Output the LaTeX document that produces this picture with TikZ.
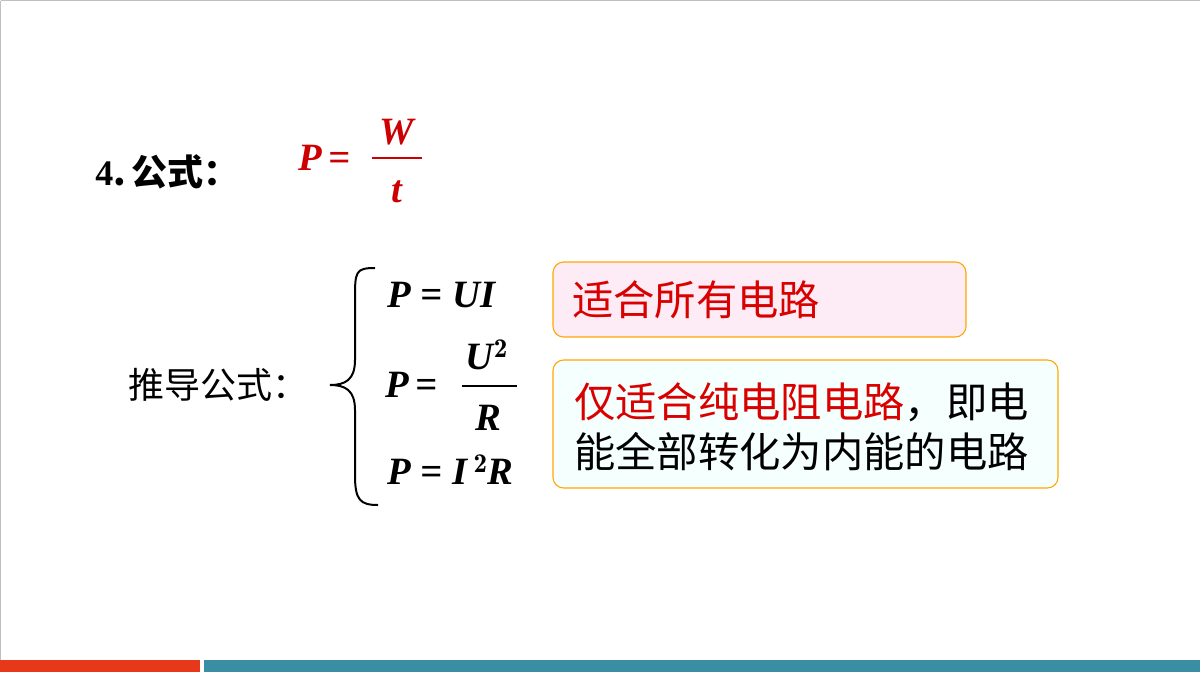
\documentclass[tikz,border=0pt]{standalone}
\usepackage{fontspec}
\newfontfamily\cjk{Noto Sans CJK SC}
\newfontfamily\tms{Liberation Serif}
\definecolor{barteal}{HTML}{3A8EA3}
\definecolor{barred}{HTML}{E8381A}
\begin{document}
\begin{tikzpicture}[x=0.75pt,y=-0.75pt,
  cj/.style={font=\cjk\fontsize{31}{34}\selectfont,anchor=west,inner sep=0},
  fm/.style={font=\tms\bfseries\itshape\fontsize{29}{32}\selectfont,inner sep=0},
  box/.style={draw=orange!70!yellow,line width=0.8pt,rounded corners=8pt}]
\useasboundingbox (0,0) rectangle (1200,675);
\fill[white] (0,0) rectangle (1200,675);
\draw[gray!50] (0.5,0.5) -- (0.5,660) (0.5,0.5) -- (1200,0.5);
\fill[barred] (0,660) rectangle (200,672);
\fill[barteal] (204,660) rectangle (1200,672);
\node[cj,font=\cjk\bfseries\fontsize{27}{30}\selectfont] (t1) at (95,172) {{\tms\bfseries 4}.\,公式：};
\node[fm,red!80!black,anchor=west] (p1) at (298,158) {P\,=};
\node[fm,red!80!black] (w) at (397,132) {W};
\draw[red!80!black,line width=1pt] (372,158) -- (422,158);
\node[fm,red!80!black] (tt) at (397,192) {t};
\node[cj,font=\cjk\fontsize{27}{30}\selectfont] (d) at (128,385) {推导公式：};
\draw[line width=1.5pt] (375,268) .. controls (355,268) and (355,272) .. (355,300) -- (355,360) .. controls (355,380) and (345,385) .. (330,385) .. controls (345,385) and (355,390) .. (355,410) -- (355,475) .. controls (355,500) and (360,505) .. (378,505);
\node[fm,anchor=west] (f1) at (387,295) {P = UI};
\node[fm,anchor=west] (f2) at (385,385) {P\,=};
\node[fm] (u) at (487,355) {U$^{\mathbf{2}}$};
\draw[line width=1pt] (462,386) -- (517,386);
\node[fm] (r) at (488,418) {R};
\node[fm,anchor=west] (f3) at (387,470) {P = I\,$^{\mathbf 2}$R};
\draw[box,fill=magenta!8] (553,262) rectangle (966,337);
\node[cj,red!85!black] (b1) at (572,300) {适合所有电路};
\draw[box,fill=green!8!cyan!4] (553,360) rectangle (1058,488);
\node[cj] (b2) at (574,402) {\textcolor{red!85!black}{仅适合纯电阻电路}，即电};
\node[cj] (b3) at (574,452) {能全部转化为内能的电路};
\end{tikzpicture}
\end{document}
